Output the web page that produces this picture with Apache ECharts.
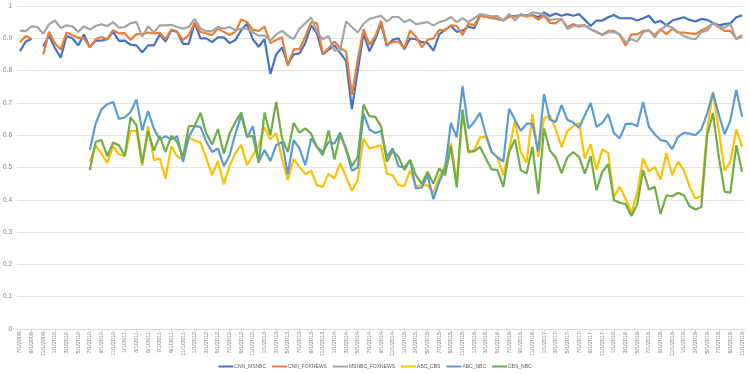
<!DOCTYPE html>
<html>
<head>
<meta charset="utf-8">
<script src="https://cdn.jsdelivr.net/npm/echarts@6/dist/echarts.min.js"></script>
<style>
html,body{margin:0;padding:0;background:#fff;}
#chart{width:750px;height:374px;}
</style>
</head>
<body>
<div id="chart"></div>
<script>
// Monthly categories 7/1/2009 .. 11/1/2019
const categories = [];
for (let y = 2009, m = 7; y < 2019 || (y === 2019 && m <= 11); ) {
  categories.push(m + '/1/' + y);
  m++; if (m > 12) { m = 1; y++; }
}

const seriesNames = ['CNN_MSNBC','CNN_FOXNEWS','MSNBC_FOXNEWS','ABC_CBS','ABC_NBC','CBS_NBC'];

const CNN_MSNBC = [0.86,0.89,0.898,null,0.875,0.908,0.87,0.84,0.907,0.9,
0.878,0.912,0.872,0.893,0.893,0.897,0.92,0.892,0.893,0.88,
0.878,0.857,0.878,0.878,0.912,0.89,0.925,0.92,0.883,0.883,
0.948,0.9,0.9,0.888,0.903,0.903,0.885,0.895,0.925,0.945,
0.897,0.874,0.897,0.79,0.85,0.872,0.82,0.85,0.853,0.885,
0.94,0.915,0.85,0.865,0.878,0.855,0.83,0.68,0.80,0.915,
0.86,0.897,0.945,0.877,0.895,0.9,0.866,0.9,0.897,0.888,
0.885,0.862,0.912,0.927,0.938,0.92,0.924,0.936,0.931,0.97,
0.967,0.965,0.96,0.955,0.969,0.969,0.972,0.972,0.972,0.965,
0.98,0.969,0.977,0.97,0.975,0.97,0.975,0.957,0.938,0.955,
0.955,0.965,0.972,0.962,0.962,0.962,0.955,0.962,0.97,0.948,
0.954,0.94,0.955,0.96,0.965,0.957,0.952,0.96,0.957,0.948,
0.94,0.944,0.946,0.965,0.971];

const CNN_FOXNEWS = [0.888,0.907,0.898,null,0.85,0.92,0.885,0.865,0.918,0.91,
0.902,0.9,0.872,0.897,0.904,0.898,0.925,0.915,0.916,0.895,
0.913,0.913,0.918,0.915,0.917,0.898,0.927,0.92,0.895,0.91,
0.948,0.92,0.915,0.91,0.93,0.92,0.91,0.92,0.958,0.95,
0.926,0.923,0.936,0.885,0.895,0.903,0.815,0.866,0.867,0.905,
0.95,0.946,0.852,0.869,0.89,0.869,0.859,0.725,0.833,0.928,
0.88,0.905,0.954,0.882,0.888,0.89,0.869,0.924,0.905,0.872,
0.895,0.9,0.926,0.924,0.94,0.938,0.91,0.945,0.94,0.97,
0.967,0.962,0.96,0.955,0.967,0.967,0.972,0.967,0.972,0.958,
0.97,0.948,0.946,0.96,0.934,0.944,0.936,0.94,0.928,0.92,
0.911,0.923,0.923,0.91,0.877,0.912,0.912,0.923,0.924,0.91,
0.928,0.913,0.929,0.918,0.918,0.915,0.913,0.924,0.933,0.946,
0.934,0.923,0.923,0.898,0.91];

const MSNBC_FOXNEWS = [0.924,0.922,0.937,0.935,0.914,0.943,0.955,0.932,0.94,0.937,
0.92,0.937,0.927,0.938,0.943,0.938,0.95,0.933,0.935,0.947,
0.95,0.905,0.937,0.918,0.94,0.94,0.942,0.935,0.93,0.935,
0.96,0.93,0.922,0.922,0.935,0.93,0.935,0.925,0.93,0.93,
0.918,0.908,0.908,0.893,0.912,0.923,0.908,0.898,0.93,0.946,
0.965,0.92,0.897,0.907,0.862,0.865,0.952,0.935,0.918,0.945,
0.96,0.965,0.97,0.952,0.966,0.966,0.95,0.958,0.944,0.947,
0.95,0.94,0.95,0.955,0.966,0.95,0.962,0.95,0.962,0.975,
0.972,0.968,0.969,0.955,0.975,0.955,0.975,0.969,0.98,0.977,
0.974,0.957,0.959,0.96,0.929,0.938,0.94,0.94,0.928,0.919,
0.91,0.919,0.919,0.913,0.887,0.897,0.89,0.919,0.926,0.903,
0.926,0.94,0.933,0.92,0.907,0.9,0.897,0.919,0.924,0.948,
0.936,0.933,0.944,0.897,0.905];

const ABC_CBS = [null,null,null,null,null,null,null,null,null,null,null,null,
0.518,0.569,0.543,0.514,0.566,0.541,0.535,0.613,
0.615,0.505,0.628,0.523,0.528,0.466,0.566,0.535,0.525,0.593,
0.583,0.578,0.528,0.476,0.52,0.448,0.505,0.545,0.57,0.507,
0.538,0.569,0.624,0.587,0.607,0.528,0.461,0.526,0.502,0.479,
0.49,0.445,0.44,0.481,0.466,0.514,0.471,0.428,0.461,0.59,
0.559,0.564,0.569,0.481,0.476,0.445,0.442,0.492,0.442,0.445,
0.445,0.42,0.471,0.507,0.576,0.453,0.672,0.545,0.554,0.593,
0.595,0.548,0.531,0.476,0.554,0.646,0.548,0.514,0.665,0.533,
0.652,0.662,0.618,0.564,0.613,0.628,0.638,0.528,0.572,0.492,
0.556,0.545,0.409,0.44,0.404,0.36,0.425,0.528,0.487,0.502,
0.463,0.545,0.476,0.518,0.492,0.44,0.404,0.411,0.615,0.734,
0.615,0.49,0.518,0.618,0.564];

const ABC_NBC = [null,null,null,null,null,null,null,null,null,null,null,null,
0.554,0.636,0.68,0.696,0.703,0.65,0.655,0.672,
0.711,0.615,0.675,0.62,0.587,0.597,0.587,0.597,0.518,0.595,
0.628,0.626,0.58,0.548,0.559,0.504,0.538,0.605,0.662,0.593,
0.628,0.518,0.554,0.52,0.569,0.579,0.479,0.585,0.559,0.507,
0.59,0.564,0.548,0.579,0.574,0.608,0.554,0.49,0.5,0.667,
0.618,0.607,0.613,0.533,0.559,0.504,0.5,0.523,0.435,0.438,
0.476,0.402,0.456,0.497,0.638,0.593,0.752,0.621,0.641,0.669,
0.603,0.548,0.531,0.518,0.682,0.648,0.613,0.636,0.636,0.55,
0.727,0.648,0.641,0.693,0.648,0.639,0.623,0.662,0.7,0.626,
0.638,0.665,0.607,0.59,0.634,0.636,0.628,0.703,0.626,0.603,
0.585,0.581,0.557,0.595,0.607,0.605,0.6,0.618,0.667,0.731,
0.664,0.603,0.646,0.741,0.657];

const CBS_NBC = [null,null,null,null,null,null,null,null,null,null,null,null,
0.492,0.579,0.585,0.535,0.577,0.569,0.535,0.655,
0.631,0.514,0.613,0.552,0.597,0.548,0.598,0.579,0.533,0.628,
0.629,0.669,0.605,0.571,0.619,0.543,0.605,0.641,0.67,0.597,
0.597,0.514,0.67,0.6,0.703,0.59,0.548,0.638,0.608,0.621,
0.605,0.564,0.538,0.615,0.525,0.602,0.559,0.504,0.533,0.695,
0.659,0.657,0.628,0.518,0.551,0.533,0.492,0.523,0.476,0.45,
0.487,0.45,0.497,0.476,0.566,0.438,0.679,0.55,0.55,0.564,
0.528,0.494,0.492,0.44,0.548,0.587,0.492,0.481,0.564,0.418,
0.621,0.552,0.531,0.483,0.531,0.548,0.533,0.481,0.535,0.43,
0.487,0.51,0.399,0.391,0.387,0.35,0.387,0.492,0.432,0.44,
0.356,0.414,0.411,0.422,0.414,0.38,0.37,0.378,0.6,0.669,
0.533,0.425,0.422,0.569,0.487];

const seriesData = [CNN_MSNBC, CNN_FOXNEWS, MSNBC_FOXNEWS, ABC_CBS, ABC_NBC, CBS_NBC];
const colors = ['#4472C4','#ED7D31','#A5A5A5','#FFC000','#5B9BD5','#70AD47'];

const chart = echarts.init(document.getElementById('chart'), null, {renderer: 'canvas'});
chart.setOption({
  animation: false,
  backgroundColor: '#ffffff',
  color: colors,
  grid: {left: 15, right: 5, top: 6, bottom: 45, containLabel: false},
  legend: {
    top: 359,
    left: 'center',
    icon: 'rect',
    itemWidth: 15,
    itemHeight: 2,
    itemGap: 6,
    textStyle: {fontSize: 5, color: '#595959', fontFamily: 'Liberation Sans', padding: [0,0,0,-4]},
    data: seriesNames
  },
  xAxis: {
    type: 'category',
    data: categories,
    boundaryGap: true,
    axisLine: {lineStyle: {color: '#D9D9D9', width: 1}},
    axisTick: {show: true, interval: 1, alignWithLabel: true, length: 3, lineStyle: {color: '#D9D9D9'}},
    axisLabel: {interval: 1, rotate: 90, fontSize: 5.5, color: '#7F7F7F', margin: 3, fontFamily: 'Liberation Sans'},
    splitLine: {show: false}
  },
  yAxis: {
    type: 'value',
    min: 0, max: 1, interval: 0.1,
    axisLine: {show: false},
    axisTick: {show: false},
    axisLabel: {fontSize: 6.5, color: '#7F7F7F', margin: 5, fontFamily: 'Liberation Sans'},
    splitLine: {lineStyle: {color: '#E3E3E3', width: 1}}
  },
  series: seriesNames.map((n, k) => ({
    name: n,
    type: 'line',
    data: seriesData[k],
    showSymbol: false,
    symbol: 'none',
    connectNulls: false,
    lineStyle: {width: 2.2, color: colors[k]},
    itemStyle: {color: colors[k]},
    emphasis: {disabled: true}
  }))
});
</script>
</body>
</html>
